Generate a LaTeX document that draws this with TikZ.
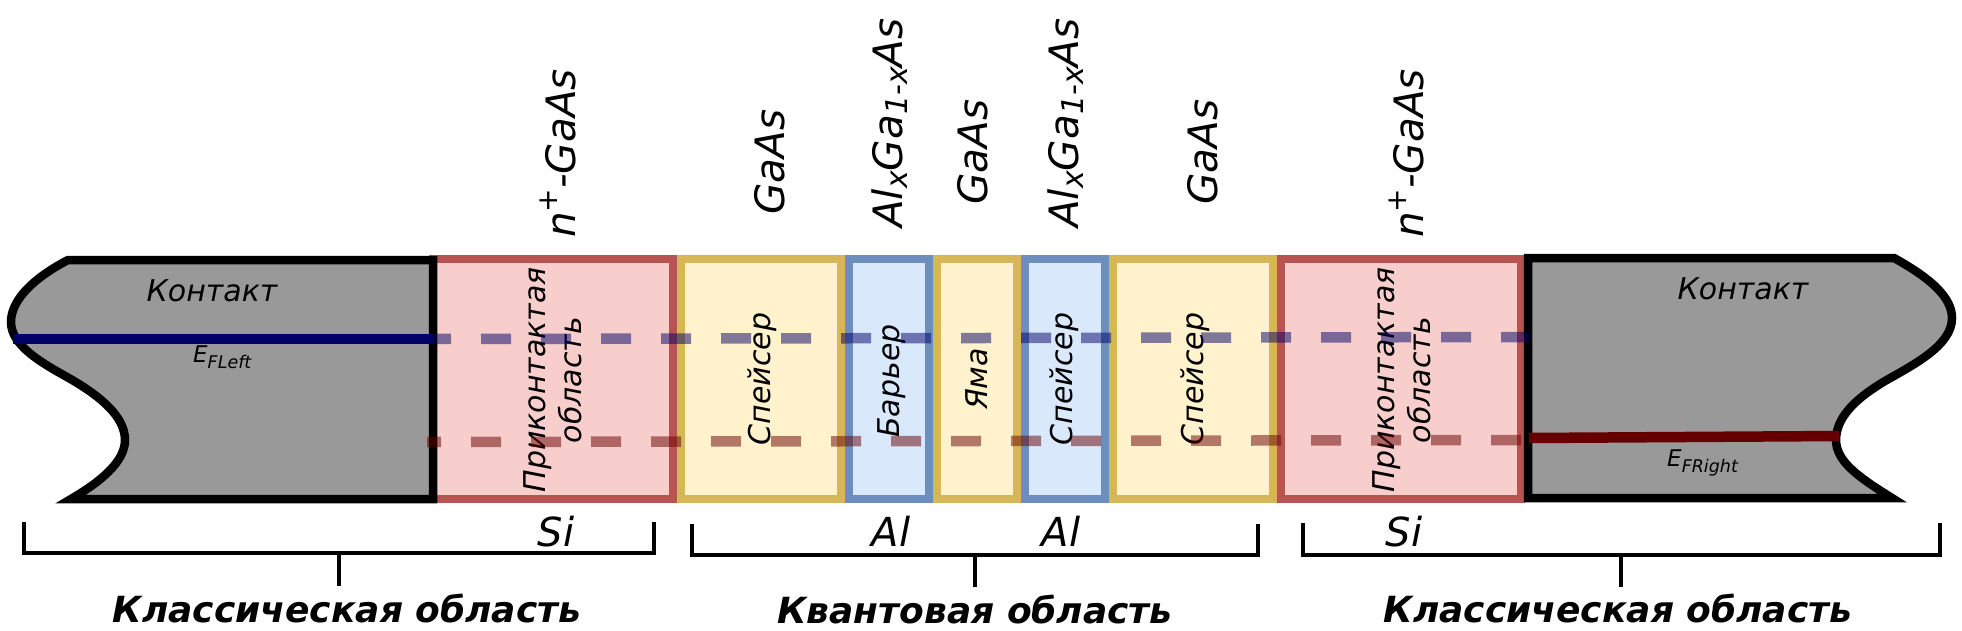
\documentclass[tikz,border=0pt]{standalone}
\usepackage{fontspec}
\setmainfont{DejaVu Sans}
\newcommand{\lowr}[3]{\raisebox{-#3em}{\fontsize{#1}{#1}\selectfont #2}}
\newcommand{\uppr}[2]{\raisebox{0.42em}{\fontsize{#1}{#1}\selectfont #2}}
\definecolor{redf}{HTML}{F8CECC}\definecolor{redd}{HTML}{B85450}
\definecolor{yelf}{HTML}{FFF2CC}\definecolor{yeld}{HTML}{D6B656}
\definecolor{bluf}{HTML}{DAE8FC}\definecolor{blud}{HTML}{6C8EBF}
\definecolor{grayc}{HTML}{999999}
\definecolor{fnavy}{HTML}{000066}\definecolor{fmaroon}{HTML}{660000}
\tikzset{
 redbox/.style={draw=redd,fill=redf,line width=8pt},
 yelbox/.style={draw=yeld,fill=yelf,line width=8pt},
 blubox/.style={draw=blud,fill=bluf,line width=8pt},
 contact/.style={draw=black,fill=grayc,line width=8.5pt,miter limit=10},
 bracket/.style={draw=black,line width=4pt},
 fsolid/.style={line width=10.5pt},
 fdash/.style={line width=10.5pt,opacity=.5,dash pattern=on 30pt off 30pt},
 lab/.style={inner sep=0pt,font=\fontsize{30}{36}\selectfont\itshape},
 vlab/.style={lab,rotate=90,align=center,anchor=center},
 mat/.style={inner sep=0pt,rotate=90,anchor=base west,font=\fontsize{40.5}{40.5}\selectfont\itshape},
 elem/.style={inner sep=0pt,anchor=base,font=\fontsize{40}{40}\selectfont\itshape},
 sect/.style={inner sep=0pt,anchor=base,font=\fontsize{36}{36}\selectfont\bfseries\itshape},
 fermi/.style={inner sep=0pt,anchor=base west,font=\fontsize{23}{23}\selectfont\itshape},
}
\begin{document}
\begin{tikzpicture}[x=1pt,y=-1pt]
\useasboundingbox (0,0) rectangle (1962,630);
% layer boxes
\draw[redbox] (433,259) rectangle (673,499);
\draw[redbox] (1281,259) rectangle (1521,499);
\draw[yelbox] (681,259) rectangle (841,499);
\draw[yelbox] (937,259) rectangle (1017,499);
\draw[yelbox] (1113,259) rectangle (1273,499);
\draw[blubox] (849,259) rectangle (929,499);
\draw[blubox] (1025,259) rectangle (1105,499);
% contacts
\draw[contact] (433,260) -- (68,260) .. controls (28,281) and (11,303) .. (11,322)
  .. controls (11,345) and (40,362) .. (67,377)
  .. controls (97,394) and (125,415) .. (125,440)
  .. controls (125,462) and (100,482) .. (71,499) -- (433,499) -- cycle;
\draw[contact] (1528,258) -- (1894,258) .. controls (1932,279) and (1952,298) .. (1952,318)
  .. controls (1952,345) and (1915,364) .. (1885,381)
  .. controls (1860,396) and (1836,415) .. (1836,440)
  .. controls (1836,462) and (1860,478) .. (1892,498) -- (1528,498) -- cycle;
% labels
\node[vlab] (pl) at (553,380) {Приконтактая\\область};
\node[vlab] (pr) at (1402,380) {Приконтактая\\область};
\node[vlab] (sp1) at (762,379) {Спейсер};
\node[vlab] (bar) at (892,381) {Барьер};
\node[vlab] (yam) at (977,379) {Яма};
\node[vlab] (sp2) at (1064,379) {Спейсер};
\node[vlab] (sp3) at (1195,379) {Спейсер};
\node[lab,anchor=base] (cl) at (212,301) {Контакт};
\node[lab,anchor=base] (cr) at (1743,299) {Контакт};
\node[fermi] (el) at (193,362) {E\lowr{17.5}{FLeft}{0.3}};
\node[fermi] (er) at (1667,466) {E\lowr{17.5}{FRight}{0.3}};
% Fermi levels
\coordinate (bl0) at (13,339);\coordinate (bl1) at (433,339);\coordinate (bl2) at (1530,337);
\coordinate (rl0) at (427,442);\coordinate (rl1) at (1521,440);\coordinate (rl2) at (1839,436);
\coordinate (rl3) at (1529,438);
\draw[fsolid,fnavy] (bl0) -- (bl1);
\draw[fsolid,fmaroon] (rl3) -- (rl2);
\draw[fdash,fnavy,dash phase=12pt] (bl1) -- (bl2);
\draw[fdash,fmaroon,dash phase=16pt] (rl0) -- (rl1);
% materials
\node[mat] (m1) at (575,238) {n\uppr{28}{+}-GaAs};
\node[mat] (m2) at (784,215) {GaAs};
\node[mat] (m3) at (902,228) {Al\lowr{30}{x}{0.14}Ga\lowr{30}{1-x}{0.14}As};
\node[mat] (m4) at (987,205) {GaAs};
\node[mat] (m5) at (1078,228) {Al\lowr{30}{x}{0.14}Ga\lowr{30}{1-x}{0.14}As};
\node[mat] (m6) at (1217,205) {GaAs};
\node[mat] (m7) at (1423,238) {n\uppr{28}{+}-GaAs};
\node[elem] (e1) at (556,546) {Si};
\node[elem] (e2) at (891,546) {Al};
\node[elem] (e3) at (1061,546) {Al};
\node[elem] (e4) at (1404,546) {Si};
% brackets
\coordinate (a1) at (24,522);\coordinate (a2) at (24,553);\coordinate (a3) at (654,553);\coordinate (a4) at (654,522);
\coordinate (a5) at (339,553);\coordinate (a6) at (339,586);
\coordinate (b1) at (692,524);\coordinate (b2) at (692,555);\coordinate (b3) at (1258,555);\coordinate (b4) at (1258,524);
\coordinate (b5) at (975,555);\coordinate (b6) at (975,587);
\coordinate (c1) at (1303,523);\coordinate (c2) at (1303,555);\coordinate (c3) at (1940,555);\coordinate (c4) at (1940,523);
\coordinate (c5) at (1621,555);\coordinate (c6) at (1621,587);
\draw[bracket] (a1) -- (a2) -- (a3) -- (a4) (a5) -- (a6);
\draw[bracket] (b1) -- (b2) -- (b3) -- (b4) (b5) -- (b6);
\draw[bracket] (c1) -- (c2) -- (c3) -- (c4) (c5) -- (c6);
\node[sect] (s1) at (347,622) {Классическая область};
\node[sect] (s2) at (975,623) {Квантовая область};
\node[sect] (s3) at (1618,622) {Классическая область};
\end{tikzpicture}
\end{document}
